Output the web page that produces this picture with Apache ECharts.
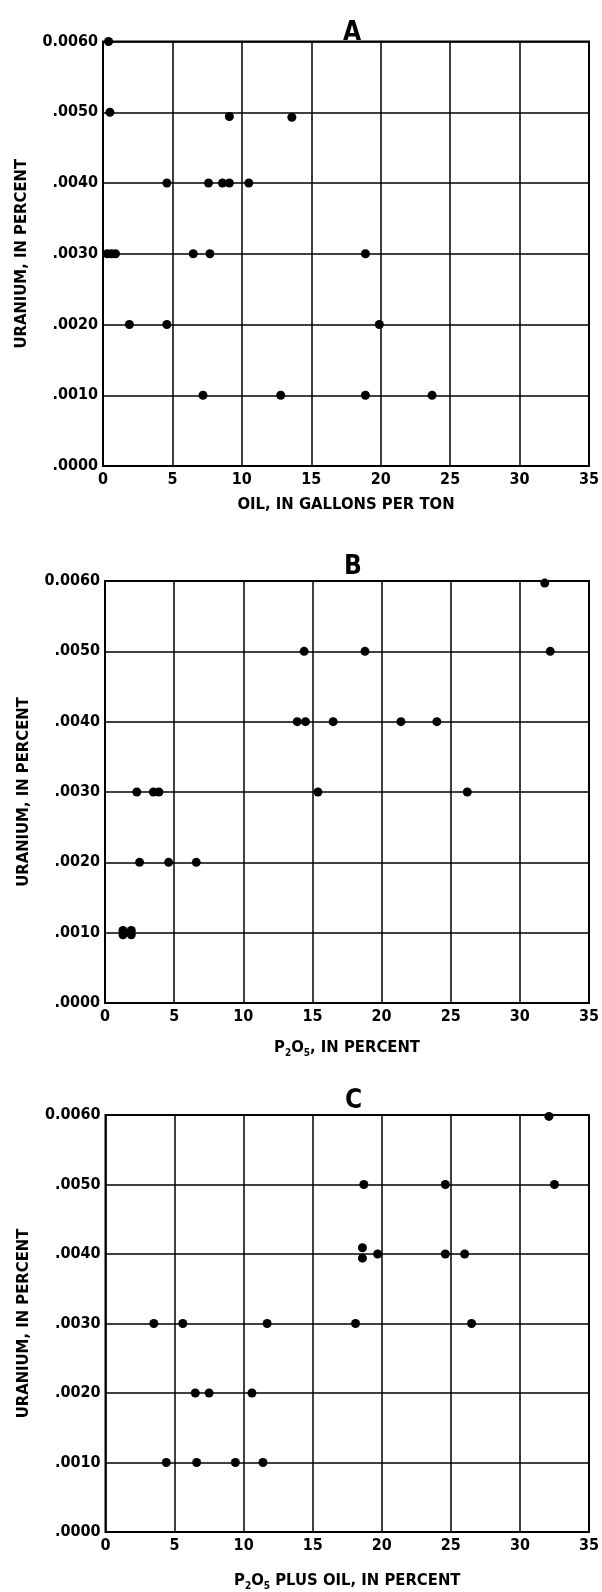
<!DOCTYPE html>
<html>
<head>
<meta charset="utf-8">
<script src="https://cdn.jsdelivr.net/npm/echarts@6/dist/echarts.min.js"></script>
<style>
html,body{margin:0;padding:0;background:#fff;}
#chart{width:602px;height:1592px;}
</style>
</head>
<body>
<div id="chart"></div>
<script>
// ---- Data ----
const panelTitles = ['A', 'B', 'C'];
const yTickLabels = ['.0000', '.0010', '.0020', '.0030', '.0040', '.0050', '0.0060'];
const xTickValues = [0, 5, 10, 15, 20, 25, 30, 35];

// Panel A: oil (gallons per ton) vs uranium (percent)
const oilA = [0.4, 0.5, 9.1, 13.6, 4.6, 7.6, 8.6, 9.1, 10.5, 0.3, 0.6, 0.9, 6.5, 7.7, 18.9, 1.9, 4.6, 19.9, 7.2, 12.8, 18.9, 23.7];
const uraniumA = [0.0060, 0.0050, 0.00494, 0.00493, 0.0040, 0.0040, 0.0040, 0.0040, 0.0040, 0.0030, 0.0030, 0.0030, 0.0030, 0.0030, 0.0030, 0.0020, 0.0020, 0.0020, 0.0010, 0.0010, 0.0010, 0.0010];

// Panel B: P2O5 (percent) vs uranium (percent)
const p2o5B = [31.8, 14.4, 18.8, 32.2, 13.9, 14.5, 16.5, 21.4, 24.0, 2.3, 3.5, 3.9, 15.4, 26.2, 2.5, 4.6, 6.6, 1.3, 1.3, 1.9, 1.9];
const uraniumB = [0.00597, 0.0050, 0.0050, 0.0050, 0.0040, 0.0040, 0.0040, 0.0040, 0.0040, 0.0030, 0.0030, 0.0030, 0.0030, 0.0030, 0.0020, 0.0020, 0.0020, 0.00103, 0.00097, 0.00103, 0.00097];

// Panel C: P2O5 plus oil (percent) vs uranium (percent)
const p2o5OilC = [32.1, 18.7, 24.6, 32.5, 18.6, 18.6, 19.7, 24.6, 26.0, 3.5, 5.6, 11.7, 18.1, 26.5, 6.5, 7.5, 10.6, 4.4, 6.6, 9.4, 11.4];
const uraniumC = [0.00598, 0.0050, 0.0050, 0.0050, 0.00409, 0.00394, 0.0040, 0.0040, 0.0040, 0.0030, 0.0030, 0.0030, 0.0030, 0.0030, 0.0020, 0.0020, 0.0020, 0.0010, 0.0010, 0.0010, 0.0010];

const xNames = [
  'OIL, IN GALLONS PER TON',
  'P{s|2}O{s|5}, IN PERCENT',
  'P{s|2}O{s|5} PLUS OIL, IN PERCENT'
];
const yName = 'URANIUM, IN PERCENT';

// ---- Layout ----
const FONT = 'DejaVu Sans Condensed';
const INK = '#000';
const grids = [
  {left: 103, top: 41.5, width: 488, height: 424.5},
  {left: 105, top: 581, width: 486, height: 422},
  {left: 105.5, top: 1115, width: 486, height: 420}
];
const xNameGaps = [30, 35, 39];
const titleTops = [15, 549, 1083];

function pairs(xs, ys) { return xs.map((x, i) => [x, ys[i]]); }
const seriesData = [pairs(oilA, uraniumA), pairs(p2o5B, uraniumB), pairs(p2o5OilC, uraniumC)];

const chart = echarts.init(document.getElementById('chart'), null, {renderer: 'canvas'});

const option = {
  animation: false,
  backgroundColor: '#fff',
  title: panelTitles.map((t, i) => ({
    text: t,
    left: grids[i].left + grids[i].width / 2,
    textAlign: 'center',
    top: titleTops[i],
    textStyle: {fontFamily: FONT, fontWeight: 'bold', fontSize: 26, color: INK}
  })),
  grid: grids.map(g => Object.assign({show: true, borderColor: INK, borderWidth: 2, backgroundColor: 'transparent'}, g)),
  xAxis: grids.map((g, i) => ({
    type: 'value',
    gridIndex: i,
    min: 0, max: 35, interval: 5,
    name: xNames[i],
    nameLocation: 'middle',
    nameGap: xNameGaps[i],
    nameTextStyle: {
      fontFamily: FONT, fontWeight: 'bold', fontSize: 16.5, color: INK,
      rich: {s: {fontFamily: FONT, fontWeight: 'bold', fontSize: 10, color: INK, padding: [10, 0, 0, 0]}}
    },
    axisLine: {show: false},
    axisTick: {show: false},
    axisLabel: {
      fontFamily: FONT, fontWeight: 'bold', fontSize: 16, color: INK, margin: 6,
      formatter: v => String(xTickValues[Math.round(v / 5)])
    },
    splitLine: {show: true, lineStyle: {color: INK, width: 1.5}}
  })),
  yAxis: grids.map((g, i) => ({
    type: 'value',
    gridIndex: i,
    min: 0, max: 0.006, interval: 0.001,
    name: yName,
    nameLocation: 'middle',
    nameRotate: 90,
    nameGap: 73,
    nameTextStyle: {fontFamily: FONT, fontWeight: 'bold', fontSize: 16.5, color: INK},
    axisLine: {show: false},
    axisTick: {show: false},
    axisLabel: {
      fontFamily: FONT, fontWeight: 'bold', fontSize: 16, color: INK, margin: 5,
      formatter: v => yTickLabels[Math.round(v / 0.001)]
    },
    splitLine: {show: true, lineStyle: {color: INK, width: 1.5}}
  })),
  series: seriesData.map((d, i) => ({
    type: 'scatter',
    xAxisIndex: i,
    yAxisIndex: i,
    data: d,
    symbol: 'circle',
    symbolSize: 9,
    clip: false,
    itemStyle: {color: INK, opacity: 1}
  }))
};
chart.setOption(option);
</script>
</body>
</html>
